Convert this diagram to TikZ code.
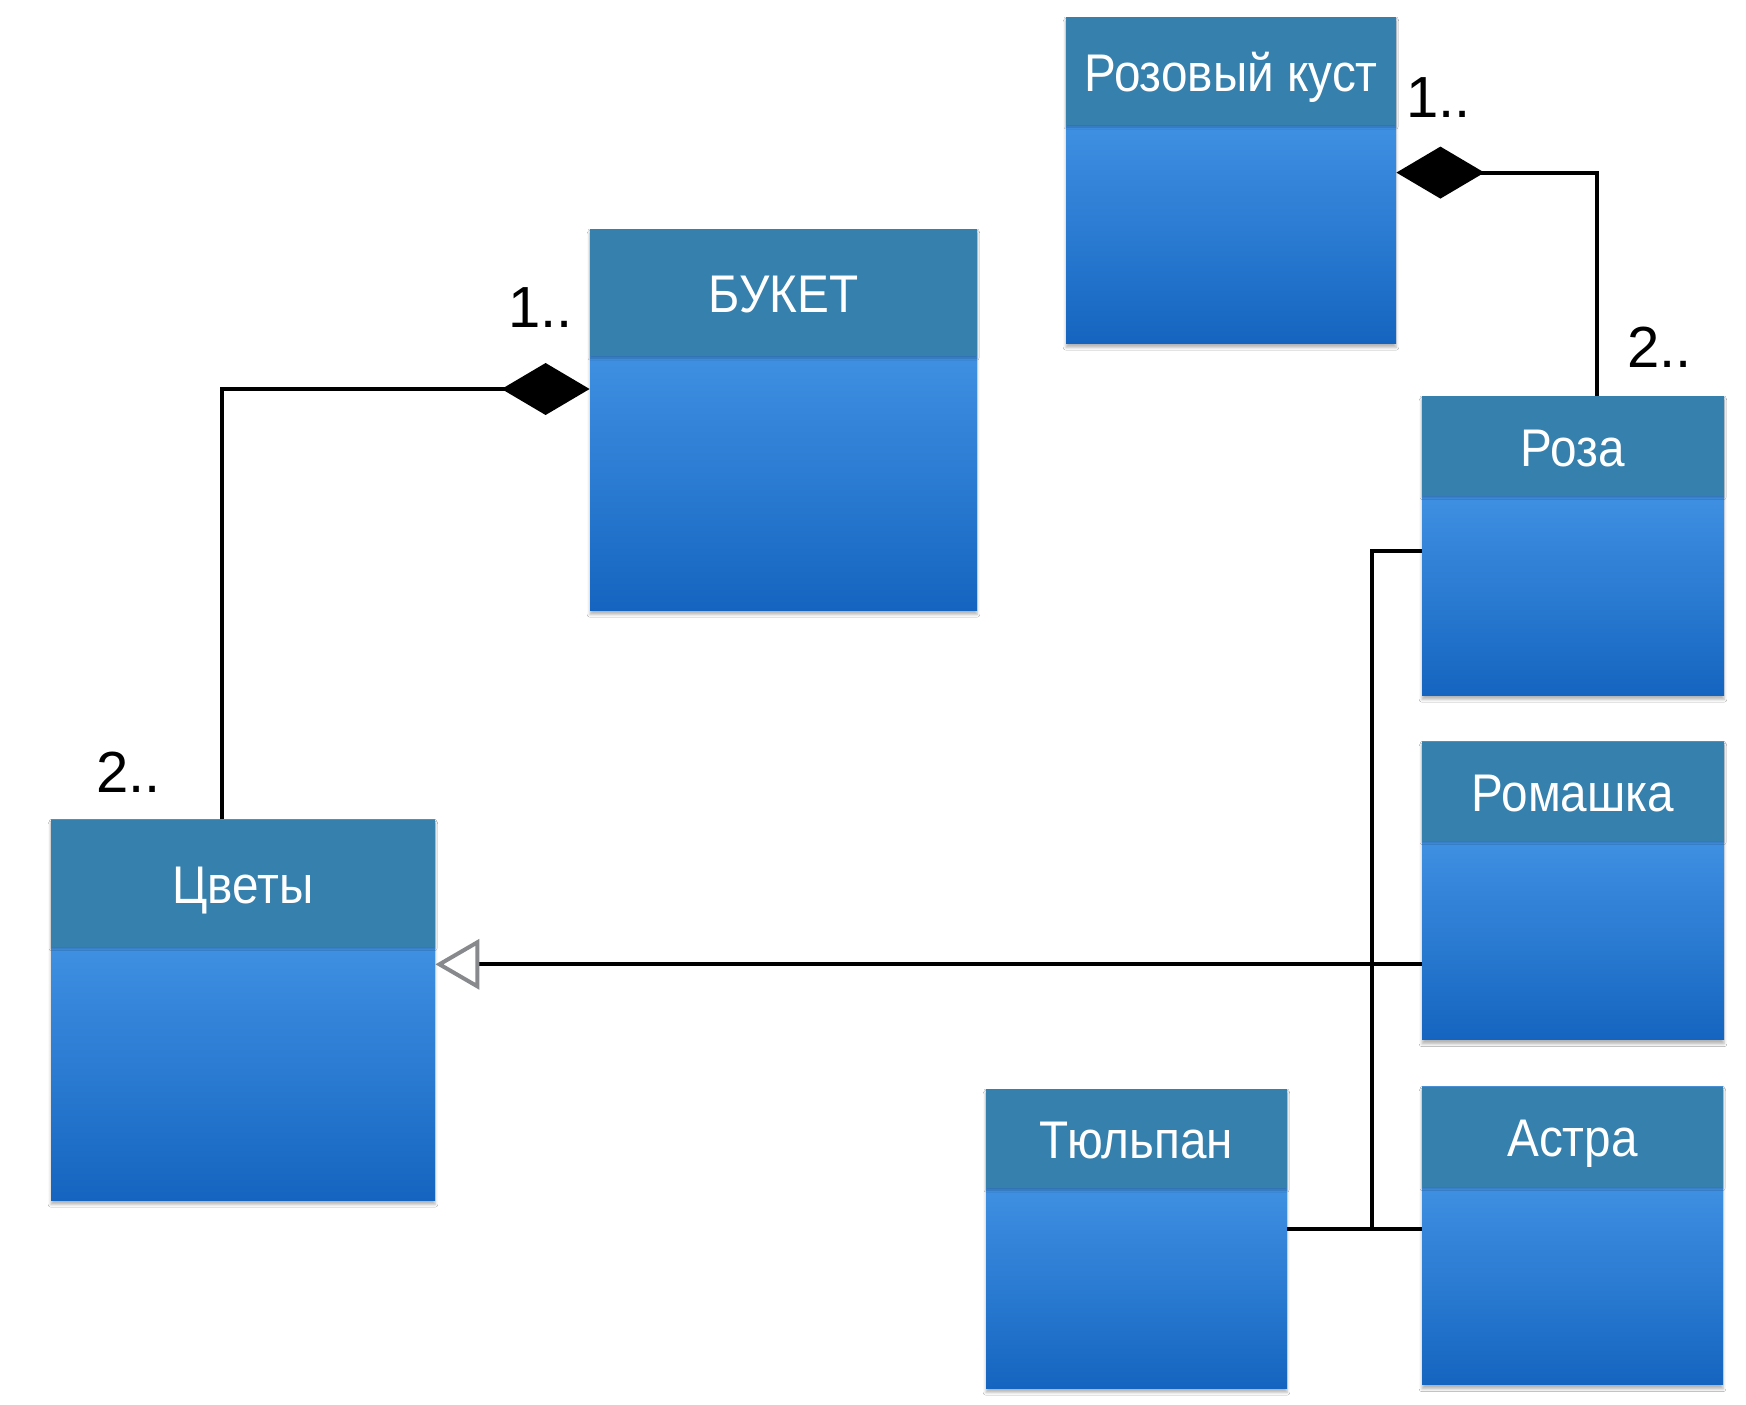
\documentclass[tikz,border=0pt]{standalone}
\usepackage{fontspec}
\setmainfont{Liberation Sans}
\newfontfamily\headfont[FakeStretch=0.9]{Liberation Sans}
\usetikzlibrary{arrows.meta,shadows.blur}
\definecolor{headblue}{RGB}{53,128,172}
\definecolor{bodytop}{RGB}{84,166,244}
\definecolor{bodymid}{RGB}{57,145,227}
\definecolor{bodybot}{RGB}{21,101,192}
\definecolor{arrgray}{RGB}{135,137,140}
\tikzset{
  classbody/.style={rectangle, inner sep=0pt, draw=none,
    top color=bodytop, middle color=bodymid, bottom color=bodybot,
    blur shadow={shadow xshift=0pt, shadow yshift=-2.2pt, shadow blur radius=1.4pt, shadow opacity=30}},
  classhead/.style={rectangle, inner sep=0pt, draw=none, fill=headblue, text=white,
    font=\headfont\fontsize{26.5}{30}\selectfont,
    blur shadow={shadow xshift=0pt, shadow yshift=-1pt, shadow blur radius=1pt, shadow opacity=22}},
  conn/.style={line width=2pt, black},
  mult/.style={font=\fontsize{29}{32}\selectfont, inner sep=0pt, anchor=base west, text=black},
  compo/.style={-{Diamond[length=44pt,width=26pt]}},
  gener/.style={-{Triangle[open,length=22pt,width=25pt,color=arrgray,fill=white]}}
}
\newcommand\umlclass[7]{%
  \node[classbody, minimum width=#4*0.5pt, minimum height=#5*0.5pt] (#1) at (#2,#3) {};
  \node[classhead, minimum width=#4*0.5pt, minimum height=#6*0.5pt, anchor=north] (#1-h) at (#1.north) {\raisebox{-10.2pt}[0pt][0pt]{#7}};
}
\begin{document}
\begin{tikzpicture}[x=0.5pt, y=-0.5pt]
  \useasboundingbox[fill=white] (0,0) rectangle (1746,1404);

  \umlclass{kust}{1231}{180}{330}{326}{108}{Розовый куст}
  \umlclass{buket}{783.5}{419.5}{387}{381}{127}{БУКЕТ}
  \umlclass{cvety}{243}{1009.75}{384}{380.5}{127}{Цветы}
  \umlclass{roza}{1573}{545.5}{302}{299}{99.5}{Роза}
  \umlclass{romashka}{1573}{890.5}{302}{298}{99}{Ромашка}
  \umlclass{astra}{1572.5}{1235.5}{301}{298}{100}{Астра}
  \umlclass{tulpan}{1136.5}{1238.5}{301}{299}{99}{Тюльпан}

  % composition: Роза -> Розовый куст
  \coordinate (k1) at (1597,172.6);
  \draw[conn, compo] (k1 |- roza.north) -- (k1) -- (kust.east |- k1);

  % composition: Цветы -> БУКЕТ
  \coordinate (b1) at (221.6,389);
  \draw[conn, compo] (b1 |- cvety.north) -- (b1) -- (buket.west |- b1);

  % generalization bus
  \coordinate (g) at (1371.8,964.3);
  \coordinate (v1) at (1371.8,550.8);
  \coordinate (v2) at (1371.8,1229);
  \draw[conn] (roza.west |- v1) -- (v1) -- (v2);
  \draw[conn] (tulpan.east |- v2) -- (astra.west |- v2);
  \draw[conn, gener] (romashka.west |- g) -- (cvety.east |- g);

  % multiplicities
  \node[mult] (m1) at (1406,117) {1..};
  \node[mult] (m2) at (1627,367) {2..};
  \node[mult] (m3) at (508,327) {1..};
  \node[mult] (m4) at (96,792) {2..};
\end{tikzpicture}
\end{document}
